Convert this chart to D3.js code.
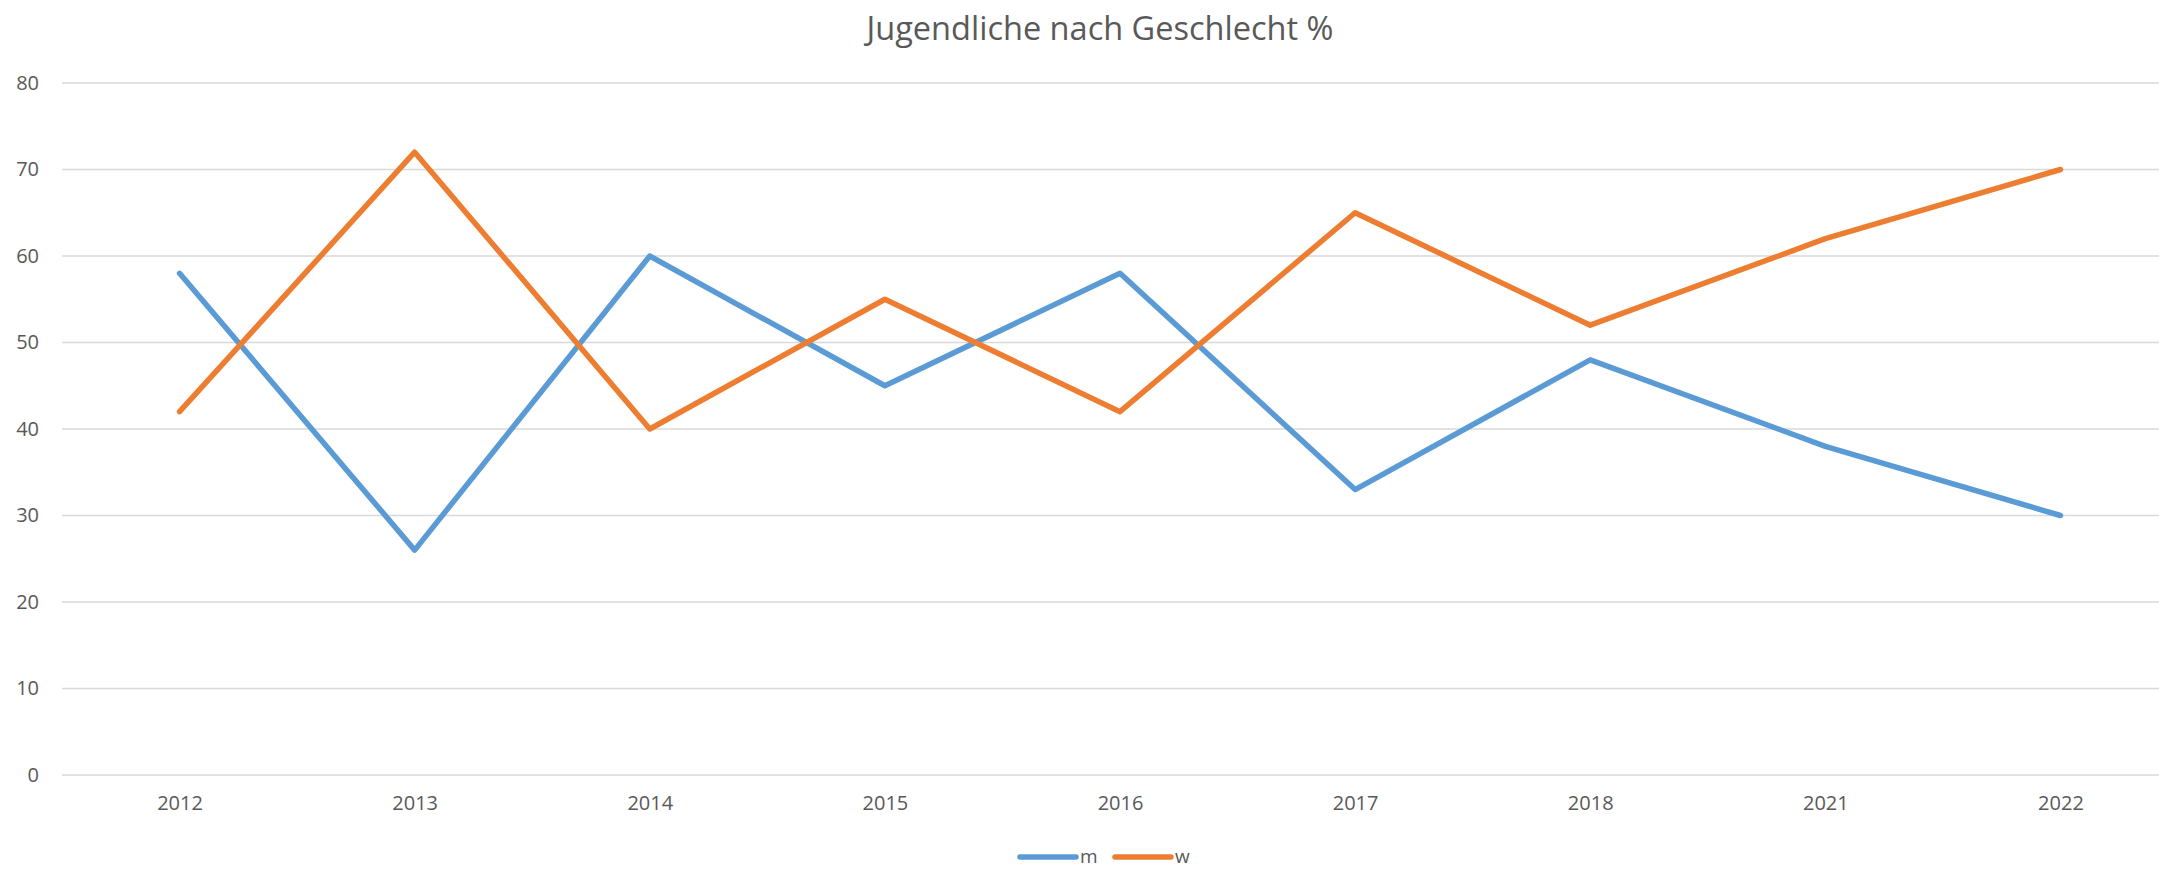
<!DOCTYPE html>
<html>
<head>
<meta charset="utf-8">
<script src="https://cdn.jsdelivr.net/npm/d3@7"></script>
<style>
  html, body { margin: 0; padding: 0; background: #fff; }
  svg { display: block; }
  text { font-family: "Open Sans", "Noto Sans", sans-serif; fill: #595959; }
</style>
</head>
<body>
<svg id="chart" width="2159" height="870"></svg>
<script>
const categories = ["2012", "2013", "2014", "2015", "2016", "2017", "2018", "2021", "2022"];
const mValues = [58, 26, 60, 45, 58, 33, 48, 38, 30];
const wValues = [42, 72, 40, 55, 42, 65, 52, 62, 70];
const yTicks = [0, 10, 20, 30, 40, 50, 60, 70, 80];
const seriesNames = ["m", "w"];
const seriesColors = ["#5B9BD5", "#ED7D31"];
const titleText = "Jugendliche nach Geschlecht %";

const series = [
  { name: seriesNames[0], values: mValues, color: seriesColors[0] },
  { name: seriesNames[1], values: wValues, color: seriesColors[1] }
];

const svg = d3.select("#chart");
const plotLeft = 62, plotRight = 2178, plotTop = 83, plotBottom = 775;

const x = d3.scalePoint().domain(categories).range([plotLeft, plotRight]).padding(0.5);
const y = d3.scaleLinear().domain([0, 80]).range([plotBottom, plotTop]);

// gridlines
svg.append("g").selectAll("line").data(yTicks).join("line")
  .attr("x1", plotLeft).attr("x2", plotRight)
  .attr("y1", d => y(d)).attr("y2", d => y(d))
  .attr("stroke", "#d9d9d9").attr("stroke-width", 1.5);

// y axis labels
const yAxis = d3.axisLeft(y).tickValues(yTicks).tickSize(0).tickPadding(0);
const yg = svg.append("g").attr("transform", `translate(39,0)`).call(yAxis);
yg.select(".domain").remove();
yg.selectAll("text").attr("font-size", 20).attr("fill", "#595959")
  .style("font-family", '"Open Sans", sans-serif');

// x axis labels
const xAxis = d3.axisBottom(x).tickSize(0).tickPadding(0);
const xg = svg.append("g").attr("transform", `translate(0,${plotBottom + 21})`).call(xAxis);
xg.select(".domain").remove();
xg.selectAll("text").attr("font-size", 20).attr("fill", "#595959")
  .style("font-family", '"Open Sans", sans-serif');

// lines
const line = d3.line().x((d, i) => x(categories[i])).y(d => y(d));
svg.append("g").selectAll("path").data(series).join("path")
  .attr("d", d => line(d.values))
  .attr("fill", "none")
  .attr("stroke", d => d.color)
  .attr("stroke-width", 5.5)
  .attr("stroke-linecap", "round")
  .attr("stroke-linejoin", "round");

// title
svg.append("text")
  .attr("x", 1100).attr("y", 40)
  .attr("text-anchor", "middle")
  .attr("font-size", 32)
  .attr("textLength", 467)
  .attr("lengthAdjust", "spacingAndGlyphs")
  .text(titleText);

// legend
const legendX = [1020, 1115];
const lg = svg.append("g").selectAll("g").data(series).join("g")
  .attr("transform", (d, i) => `translate(${legendX[i]},857)`);
lg.append("line").attr("x1", 0).attr("x2", 56).attr("y1", 0).attr("y2", 0)
  .attr("stroke", d => d.color).attr("stroke-width", 5.5).attr("stroke-linecap", "round");
lg.append("text").attr("x", 60).attr("y", 0).attr("dy", "0.3em")
  .attr("font-size", 19).text(d => d.name);
</script>
</body>
</html>
